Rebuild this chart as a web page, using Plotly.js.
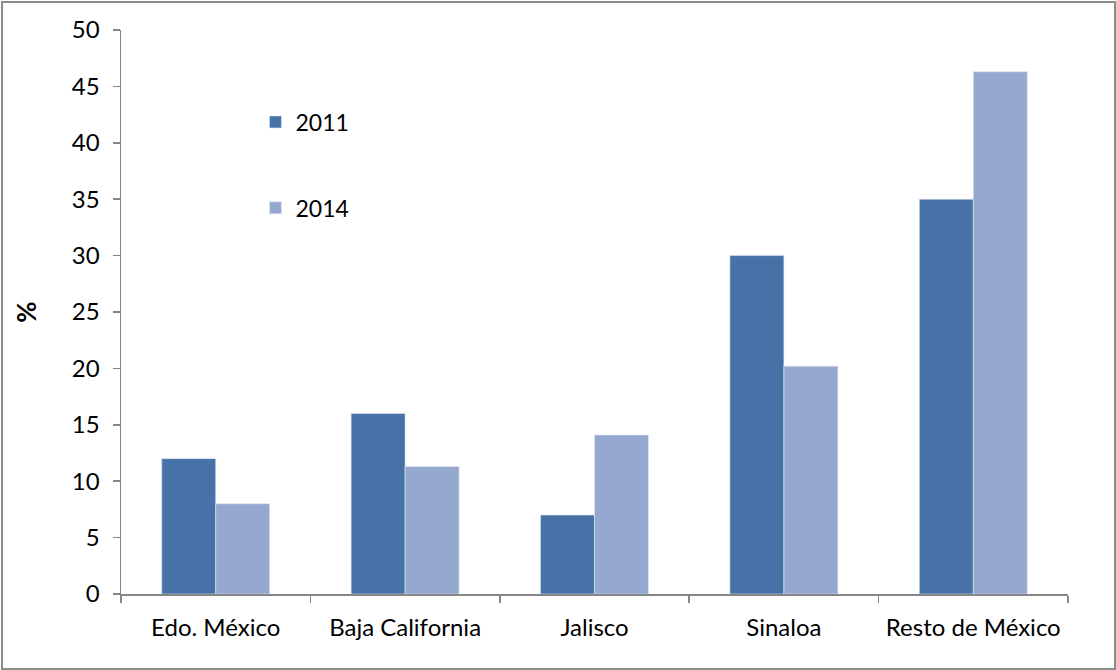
<!DOCTYPE html>
<html>
<head>
<meta charset="utf-8">
<script src="https://cdn.plot.ly/plotly-3.0.1.min.js"></script>
<style>
html,body{margin:0;padding:0;background:#fff;}
#wrap{position:absolute;left:1px;top:1px;width:1111px;height:665px;border:2px solid #8c8c8c;}
#chart{position:absolute;left:-3px;top:-3px;width:1116px;height:670px;}
</style>
</head>
<body>
<div id="wrap"><div id="chart"></div></div>
<script>
const categories = ["Edo. México", "Baja California", "Jalisco", "Sinaloa", "Resto de México"];
const values2011 = [12.0, 16.0, 7.0, 30.0, 35.0];
const values2014 = [8.0, 11.3, 14.1, 20.2, 46.3];
const yTicks = [0, 5, 10, 15, 20, 25, 30, 35, 40, 45, 50];

const font = {family: "Lato, 'Liberation Sans', sans-serif", size: 24, color: "#000"};
const legendFont = {family: font.family, size: 23, color: "#000"};

const traces = [
  {type: "bar", name: "2011", x: categories, y: values2011, legendgroup: "a",
   marker: {color: "#4672A7", line: {color: "#dfe6f2", width: 0.6}}},
  {type: "bar", name: "2014", x: categories, y: values2014, legendgroup: "b",
   marker: {color: "#95A9D0", line: {color: "#dfe6f2", width: 0.6}}}
];

const layout = {
  width: 1116, height: 670,
  margin: {l: 121, r: 48, t: 30, b: 76},
  paper_bgcolor: "rgba(0,0,0,0)", plot_bgcolor: "rgba(0,0,0,0)",
  font: font,
  barmode: "group", bargap: 0.43, bargroupgap: 0,
  showlegend: true,
  legend: {x: 0.142, y: 0.875, xanchor: "left", yanchor: "top",
           traceorder: "grouped", tracegroupgap: 53, font: legendFont,
           bgcolor: "rgba(0,0,0,0)"},
  xaxis: {type: "category", showline: true, linecolor: "#868686", linewidth: 1.5,
          ticks: "outside", tickson: "boundaries", ticklen: 7, tickcolor: "#868686",
          tickwidth: 1.5, ticklabelstandoff: 12, showgrid: false, zeroline: false,
          tickfont: font},
  yaxis: {range: [0, 50], tickvals: yTicks, ticktext: yTicks.map(String),
          showline: true, linecolor: "#868686", linewidth: 1.5,
          ticks: "outside", ticklen: 7, tickcolor: "#868686", tickwidth: 1.5,
          ticklabelstandoff: 8,
          showgrid: false, zeroline: false, tickfont: font,
          title: {text: "<b>%</b>", font: {family: font.family, size: 26, color: "#000"}, standoff: 28}}
};

Plotly.newPlot("chart", traces, layout, {displayModeBar: false, staticPlot: true});
</script>
</body>
</html>
